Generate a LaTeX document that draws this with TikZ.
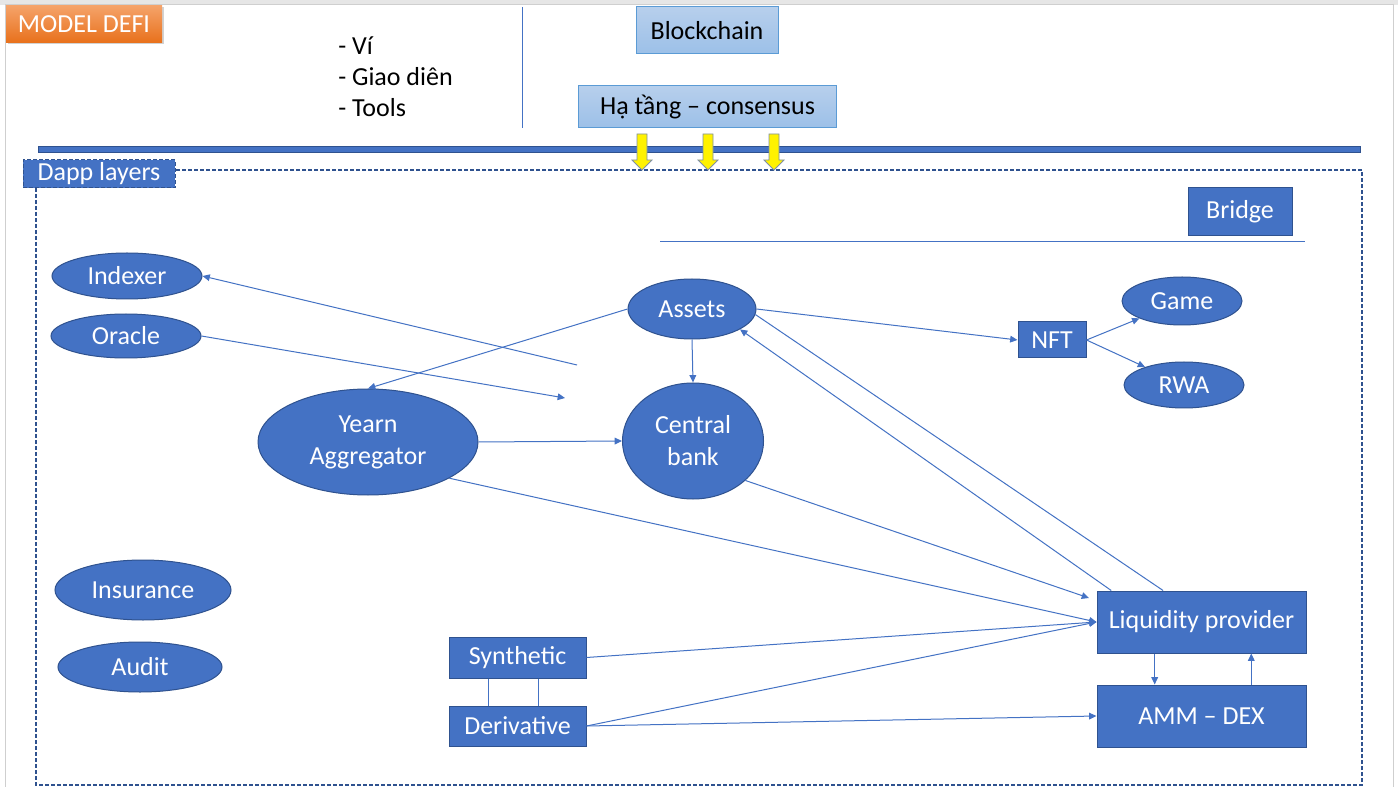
\documentclass[tikz,border=0pt]{standalone}
\usepackage{fontspec}
\setmainfont{Carlito}
\usetikzlibrary{shapes.geometric,arrows.meta,calc,shadows}
\definecolor{blu}{HTML}{4472C4}
\definecolor{dblu}{HTML}{2F528F}
\definecolor{lblu}{HTML}{5B9BD5}
\definecolor{ltop}{HTML}{B7CFEC}
\definecolor{lbot}{HTML}{9CC0E8}
\definecolor{otop}{HTML}{F5A36A}
\definecolor{obot}{HTML}{E8711C}
\definecolor{frameg}{HTML}{E6E6E6}
\definecolor{frameline}{HTML}{CFCFCF}
\definecolor{yedge}{HTML}{7F8FA6}
\begin{document}
\begin{tikzpicture}[x=0.75pt,y=-0.75pt, font=\fontsize{19.5}{24}\selectfont,
  sz/.style 2 args={minimum width=#1*0.75pt, minimum height=#2*0.75pt},
  bnode/.style={draw=dblu, fill=blu, text=white, line width=0.75pt, inner sep=0pt, align=center},
  brect/.style={bnode, rectangle},
  bell/.style={bnode, ellipse},
  lbox/.style={rectangle, draw=lblu, top color=ltop, bottom color=lbot, text=black, line width=0.75pt, inner sep=0pt},
  conn/.style={blu, line width=0.75pt},
  arr/.style={conn, -{Triangle[length=5.5pt,width=5pt]}},
  yarrow/.style={fill=yellow, draw=yedge, line width=0.6pt},
  listtext/.style={anchor=west, inner sep=0pt, text=black}
]
\useasboundingbox (0,0) rectangle (1398,787);
% page frame
\fill[white] (0,0) rectangle (1398,787);
\fill[frameg] (0,0) rectangle (1398,5);
\draw[frameline, line width=0.75pt] (5,787) -- (5,5) -- (1393,5) -- (1393,787);

% title
\node[rectangle, top color=otop, bottom color=obot, text=white, inner sep=0pt, sz={156}{37},
      drop shadow={shadow xshift=1.5pt, shadow yshift=-1.5pt, opacity=0.35}] (title) at (84,24) {MODEL DEFI};

% list
\node[listtext] (l1) at (338,46) {- Ví};
\node[listtext] (l2) at (338,77) {- Giao diên};
\node[listtext] (l3) at (338,108) {- Tools};
\coordinate (vt) at (522,7);
\coordinate (vb) at (522,128);
\draw[conn] (vt) -- (vb);

% top boxes
\node[lbox, sz={142}{47}] (blockchain) at (707,30.5) {Blockchain};
\node[lbox, sz={258}{42}] (hatang) at (707.5,107) {Hạ tầng – consensus};

% thick bar
\draw[dblu, fill=blu, line width=0.75pt] (38,147) rectangle (1360,153);

% dashed container
\draw[dblu, line width=1.1pt, dash pattern=on 3pt off 1.5pt] (36,170) rectangle (1362,785);
\node[brect, dash pattern=on 3pt off 1.5pt, sz={152}{28}] (dapp) at (99,174) {Dapp layers};

% yellow arrows
\foreach \cx in {642,708,774}
  \draw[yarrow] (\cx-5,134) -- (\cx+5,134) -- (\cx+5,160) -- (\cx+10,160) -- (\cx,170) -- (\cx-10,160) -- (\cx-5,160) -- cycle;

% bridge and line
\node[brect, sz={104}{48}] (bridge) at (1240,212) {Bridge};
\coordinate (hl1) at (660,242);
\coordinate (hl2) at (1305,242);
\draw[conn] (hl1) -- (hl2);

% nodes
\node[bell, sz={150}{46}] (indexer) at (127,276) {Indexer};
\node[bell, sz={150}{44}] (oracle) at (126,336) {Oracle};
\node[bell, sz={128}{60}] (assets) at (692,309) {Assets};
\node[bell, sz={120}{48}] (game) at (1182,301) {Game};
\node[brect, sz={68}{36}] (nft) at (1052,340) {NFT};
\node[bell, sz={120}{46}] (rwa) at (1184,385) {RWA};
\node[bell, sz={220}{106}] (yearn) at (368,442) {Yearn\\Aggregator};
\node[bell, sz={141}{116}] (central) at (693,441) {Central\\bank};
\node[bell, sz={176}{60}] (insurance) at (143,590) {Insurance};
\node[bell, sz={164}{50}] (audit) at (140,667) {Audit};
\node[brect, sz={137}{41}] (synthetic) at (517.5,657.5) {Synthetic};
\node[brect, sz={137}{40}] (derivative) at (517.5,726) {Derivative};
\node[brect, sz={209}{62}] (lp) at (1201.5,622) {Liquidity provider};
\node[brect, sz={209}{62}] (amm) at (1201.5,716) {AMM – DEX};

% free ends
\coordinate (ixfree) at (577,365);
\coordinate (orfree) at (565,398);
\coordinate (lpc) at (1089,598);

% connectors
\draw[arr] (ixfree) -- (indexer.east);
\draw[arr] (oracle.east) -- (orfree);
\draw[arr] (assets.west) -- (yearn.north);
\draw[arr] (assets.south) -- (central.north);
\draw[arr] (assets.east) -- (nft.west);
\draw[arr] (nft.east) -- (game);
\draw[arr] (nft.east) -- (rwa);
\draw[arr] (yearn.east) -- (central.west);
\draw[arr] (yearn.-24.5) -- (lp.west);
\draw[arr] (central.-37) -- (lpc);
\draw[arr] (synthetic.east) -- (lp.west);
\draw[arr] (derivative.east) -- (lp.west);
\draw[arr] (derivative.east) -- (amm.west);
\draw[arr] ($(lp.north west)!0.07!(lp.north east)$) -- (assets.-23);
\draw[conn] (assets.-5) -- ($(lp.north west)!0.317!(lp.north east)$);
\draw[arr] ($(lp.south west)!0.277!(lp.south east)$) -- ($(amm.north west)!0.277!(amm.north east)$);
\draw[arr] ($(amm.north west)!0.737!(amm.north east)$) -- ($(lp.south west)!0.737!(lp.south east)$);
\draw[conn] ($(synthetic.south west)!0.292!(synthetic.south east)$) -- ($(derivative.north west)!0.292!(derivative.north east)$);
\draw[conn] ($(synthetic.south west)!0.65!(synthetic.south east)$) -- ($(derivative.north west)!0.65!(derivative.north east)$);
\end{tikzpicture}
\end{document}
